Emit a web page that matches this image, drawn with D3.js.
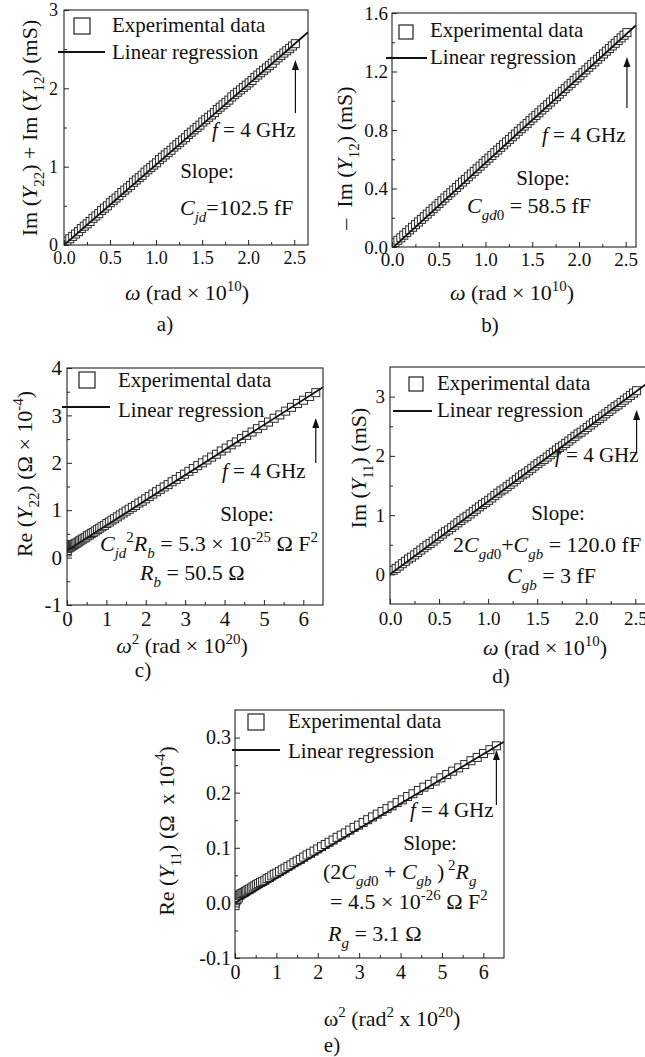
<!DOCTYPE html>
<html>
<head>
<meta charset="utf-8">
<script src="https://cdn.jsdelivr.net/npm/d3@7"></script>
<style>
  body { margin: 0; background: #fff; }
  svg text { font-family: "Liberation Serif", "Times New Roman", serif; fill: #111; white-space: pre; }
</style>
</head>
<body>
<div id="chart"></div>
<script>
// measured frequencies (GHz), 50 MHz steps up to 4 GHz
const freqGHz = [
  0.05, 0.10, 0.15, 0.20, 0.25, 0.30, 0.35, 0.40, 0.45, 0.50,
  0.55, 0.60, 0.65, 0.70, 0.75, 0.80, 0.85, 0.90, 0.95, 1.00,
  1.05, 1.10, 1.15, 1.20, 1.25, 1.30, 1.35, 1.40, 1.45, 1.50,
  1.55, 1.60, 1.65, 1.70, 1.75, 1.80, 1.85, 1.90, 1.95, 2.00,
  2.05, 2.10, 2.15, 2.20, 2.25, 2.30, 2.35, 2.40, 2.45, 2.50,
  2.55, 2.60, 2.65, 2.70, 2.75, 2.80, 2.85, 2.90, 2.95, 3.00,
  3.05, 3.10, 3.15, 3.20, 3.25, 3.30, 3.35, 3.40, 3.45, 3.50,
  3.55, 3.60, 3.65, 3.70, 3.75, 3.80, 3.85, 3.90, 3.95, 4.00
];
// omega in units of 1e10 rad/s, omega^2 in 1e20
const omega = freqGHz.map(f => 2 * Math.PI * f / 10);
const omegaSq = omega.map(w => w * w);

// a) Im(Y22) + Im(Y12), mS
const imY22Y12 = [
  0.05, 0.08, 0.11, 0.14, 0.17, 0.21, 0.24, 0.27, 0.30, 0.34,
  0.37, 0.40, 0.44, 0.47, 0.50, 0.54, 0.57, 0.60, 0.63, 0.67,
  0.70, 0.73, 0.76, 0.80, 0.83, 0.86, 0.89, 0.93, 0.96, 0.99,
  1.02, 1.05, 1.09, 1.12, 1.15, 1.18, 1.21, 1.25, 1.28, 1.31,
  1.34, 1.37, 1.41, 1.44, 1.47, 1.50, 1.53, 1.57, 1.60, 1.63,
  1.66, 1.69, 1.73, 1.76, 1.79, 1.82, 1.85, 1.89, 1.92, 1.95,
  1.98, 2.01, 2.04, 2.07, 2.10, 2.14, 2.17, 2.20, 2.23, 2.26,
  2.29, 2.32, 2.36, 2.39, 2.42, 2.45, 2.48, 2.51, 2.54, 2.57
];
// b) -Im(Y12), mS
const negImY12 = [
  0.030, 0.046, 0.063, 0.081, 0.099, 0.117, 0.135, 0.153, 0.171, 0.189,
  0.207, 0.225, 0.244, 0.262, 0.280, 0.298, 0.316, 0.335, 0.353, 0.371,
  0.389, 0.407, 0.426, 0.444, 0.462, 0.480, 0.499, 0.517, 0.535, 0.553,
  0.572, 0.590, 0.608, 0.626, 0.645, 0.663, 0.681, 0.699, 0.718, 0.736,
  0.754, 0.772, 0.791, 0.809, 0.827, 0.845, 0.864, 0.882, 0.900, 0.918,
  0.937, 0.955, 0.973, 0.991, 1.010, 1.028, 1.046, 1.064, 1.083, 1.101,
  1.119, 1.138, 1.156, 1.174, 1.192, 1.211, 1.229, 1.247, 1.266, 1.284,
  1.302, 1.320, 1.339, 1.357, 1.375, 1.393, 1.412, 1.430, 1.448, 1.466
];
// c) Re(Y22), 1e-4 S
const reY22 = [
  0.12, 0.24, 0.15, 0.26, 0.19, 0.28, 0.21, 0.25, 0.22, 0.27,
  0.24, 0.26, 0.27, 0.28, 0.30, 0.31, 0.33, 0.35, 0.37, 0.39,
  0.41, 0.43, 0.46, 0.48, 0.51, 0.53, 0.56, 0.59, 0.62, 0.65,
  0.68, 0.72, 0.75, 0.79, 0.82, 0.86, 0.90, 0.94, 0.98, 1.02,
  1.06, 1.10, 1.15, 1.19, 1.24, 1.29, 1.34, 1.39, 1.44, 1.49,
  1.54, 1.60, 1.65, 1.71, 1.76, 1.82, 1.88, 1.94, 2.00, 2.06,
  2.12, 2.18, 2.25, 2.31, 2.38, 2.44, 2.51, 2.58, 2.65, 2.72,
  2.79, 2.86, 2.94, 3.01, 3.09, 3.17, 3.25, 3.32, 3.40, 3.48
];
// d) Im(Y11), mS
const imY11 = [
  0.07, 0.10, 0.14, 0.18, 0.22, 0.26, 0.29, 0.33, 0.37, 0.41,
  0.45, 0.49, 0.52, 0.56, 0.60, 0.64, 0.68, 0.72, 0.75, 0.79,
  0.83, 0.87, 0.91, 0.95, 0.98, 1.02, 1.06, 1.10, 1.14, 1.18,
  1.21, 1.25, 1.29, 1.33, 1.37, 1.41, 1.44, 1.48, 1.52, 1.56,
  1.60, 1.64, 1.68, 1.71, 1.75, 1.79, 1.83, 1.87, 1.91, 1.94,
  1.98, 2.02, 2.06, 2.10, 2.14, 2.17, 2.21, 2.25, 2.29, 2.33,
  2.37, 2.40, 2.44, 2.48, 2.52, 2.56, 2.60, 2.63, 2.67, 2.71,
  2.75, 2.79, 2.83, 2.86, 2.90, 2.94, 2.98, 3.02, 3.06, 3.10
];
// e) Re(Y11), 1e-4 S
const reY11 = [
  -0.005, 0.008, 0.000, 0.012, 0.004, 0.010, 0.006, 0.013, 0.009, 0.014,
  0.014, 0.016, 0.017, 0.018, 0.019, 0.021, 0.022, 0.024, 0.025, 0.027,
  0.029, 0.031, 0.033, 0.035, 0.037, 0.039, 0.041, 0.044, 0.046, 0.049,
  0.052, 0.054, 0.057, 0.060, 0.063, 0.066, 0.069, 0.073, 0.076, 0.079,
  0.083, 0.087, 0.090, 0.094, 0.098, 0.102, 0.106, 0.110, 0.114, 0.119,
  0.123, 0.127, 0.132, 0.137, 0.141, 0.146, 0.151, 0.156, 0.161, 0.166,
  0.171, 0.176, 0.182, 0.187, 0.193, 0.198, 0.204, 0.210, 0.215, 0.221,
  0.227, 0.233, 0.239, 0.245, 0.251, 0.258, 0.264, 0.271, 0.278, 0.285
];

// linear regressions: [intercept, slope]
const fitA = [0.0, 1.025];
const fitB = [-0.01, 0.585];
const fitC = [0.15, 0.53];
const fitD = [0.0, 1.23];
const fitE = [0.0, 0.045];

// ticks
const omegaMajor = [0, 0.5, 1.0, 1.5, 2.0, 2.5];
const omegaMinor = [0.25, 0.75, 1.25, 1.75, 2.25];
const omegaSqMajor = [0, 1, 2, 3, 4, 5, 6];
const omegaSqMinor = [0.5, 1.5, 2.5, 3.5, 4.5, 5.5];
const yMajorA = [0, 1, 2, 3], yMinorA = [0.5, 1.5, 2.5];
const yMajorB = [0, 0.4, 0.8, 1.2, 1.6], yMinorB = [0.2, 0.6, 1.0, 1.4];
const yMajorC = [-1, 0, 1, 2, 3, 4], yMinorC = [-0.5, 0.5, 1.5, 2.5, 3.5];
const yMajorD = [0, 1, 2, 3], yMinorD = [0.5, 1.5, 2.5];
const yMajorE = [-0.1, 0, 0.1, 0.2, 0.3], yMinorE = [-0.05, 0.05, 0.15, 0.25];

const legendLabels = ["Experimental data", "Linear regression"];

const svg = d3.select("#chart").append("svg")
    .attr("width", 645)
    .attr("height", 1057);

// text with italic / sub / sup runs
const richText = (parent, x, y, parts, size, anchor, rotate) => {
    const t = parent.append("text")
        .attr("font-size", size)
        .attr("text-anchor", anchor || "start")
        .attr("transform", `translate(${x},${y})` + (rotate ? " rotate(-90)" : ""));
    let shift = 0;
    parts.forEach(([s, k]) => {
        const span = t.append("tspan").text(s);
        let target = 0;
        if (k.includes("sub")) target = 0.32 * size;
        if (k.includes("sup")) target = -0.42 * size;
        span.attr("dy", target - shift);
        shift = target;
        if (target !== 0) span.attr("font-size", size * 0.68);
        if (k.includes("i")) span.attr("font-style", "italic");
    });
    return t;
};

const drawPanel = (p) => {
    const x = d3.scaleLinear().domain(p.xDomain).range([p.left, p.right]);
    const y = d3.scaleLinear().domain(p.yDomain).range([p.bottom, p.top]);
    const g = svg.append("g");
    const clipId = "clip-" + p.id;

    g.append("clipPath").attr("id", clipId).append("rect")
        .attr("x", p.left).attr("y", p.top)
        .attr("width", p.right - p.left).attr("height", p.bottom - p.top);

    const pts = p.xs.map((v, i) => [v, p.ys[i]]);
    const ms = 8;
    g.append("g").attr("clip-path", `url(#${clipId})`)
        .selectAll("rect")
        .data(pts)
        .join("rect")
        .attr("x", d => x(d[0]) - ms / 2)
        .attr("y", d => y(d[1]) - ms / 2)
        .attr("width", ms)
        .attr("height", ms)
        .attr("fill", "#fff")
        .attr("stroke", "#2a2a2a")
        .attr("stroke-width", 1);

    const fx = p.xDomain;
    g.append("line").attr("clip-path", `url(#${clipId})`)
        .attr("x1", x(fx[0])).attr("y1", y(p.fit[0] + p.fit[1] * fx[0]))
        .attr("x2", x(fx[1])).attr("y2", y(p.fit[0] + p.fit[1] * fx[1]))
        .attr("stroke", "#111")
        .attr("stroke-width", 1.8);

    // axes, ticks inward
    const styleAxis = sel => {
        sel.select(".domain").remove();
        sel.selectAll("line").attr("stroke", "#222");
        sel.selectAll("text")
            .attr("font-size", p.tickFont)
            .attr("font-family", "'Liberation Serif', serif")
            .attr("fill", "#111");
    };
    g.append("g").attr("transform", `translate(0,${p.bottom})`)
        .call(d3.axisBottom(x).tickValues(p.xMajor).tickSizeInner(-5).tickSizeOuter(0)
            .tickPadding(p.xPad).tickFormat(p.xFmt))
        .call(styleAxis);
    g.append("g").attr("transform", `translate(0,${p.bottom})`)
        .call(d3.axisBottom(x).tickValues(p.xMinor).tickSizeInner(-3).tickSizeOuter(0).tickFormat(""))
        .call(styleAxis);
    g.append("g").attr("transform", `translate(${p.left},0)`)
        .call(d3.axisLeft(y).tickValues(p.yMajor).tickSizeInner(-5).tickSizeOuter(0)
            .tickPadding(p.yPad).tickFormat(p.yFmt))
        .call(styleAxis);
    g.append("g").attr("transform", `translate(${p.left},0)`)
        .call(d3.axisLeft(y).tickValues(p.yMinor).tickSizeInner(-3).tickSizeOuter(0).tickFormat(""))
        .call(styleAxis);

    g.append("rect")
        .attr("x", p.left).attr("y", p.top)
        .attr("width", p.right - p.left).attr("height", p.bottom - p.top)
        .attr("fill", "none")
        .attr("stroke", "#222")
        .attr("stroke-width", 1.1);

    // legend
    const L = p.legend;
    g.append("rect")
        .attr("x", L.sx - L.ss / 2).attr("y", L.sy - L.ss / 2)
        .attr("width", L.ss).attr("height", L.ss)
        .attr("fill", "#fff").attr("stroke", "#222").attr("stroke-width", 1.2);
    g.append("line")
        .attr("x1", L.lx1).attr("x2", L.lx2).attr("y1", L.ly).attr("y2", L.ly)
        .attr("stroke", "#111").attr("stroke-width", 1.8);
    richText(g, L.tx, L.ty1, [[legendLabels[0], ""]], 21);
    richText(g, L.tx, L.ty2, [[legendLabels[1], ""]], 21);

    // arrow to the 4 GHz point
    const ax = x(p.xs[p.xs.length - 1]);
    g.append("line")
        .attr("x1", ax).attr("x2", ax).attr("y1", p.arrow[0]).attr("y2", p.arrow[1] + 8)
        .attr("stroke", "#111").attr("stroke-width", 1.2);
    g.append("path")
        .attr("d", `M${ax},${p.arrow[1]} L${ax - 3.5},${p.arrow[1] + 10} L${ax + 3.5},${p.arrow[1] + 10} Z`)
        .attr("fill", "#111");

    p.notes.forEach(n => richText(g, n.x, n.y, n.parts, n.size || 22, n.anchor));

    richText(g, p.xTitle.x, p.xTitle.y, p.xTitle.parts, 22, "middle");
    richText(g, p.yTitle.x, p.yTitle.y, p.yTitle.parts, 22, "middle", true);
    richText(g, p.tag.x, p.tag.y, [[p.tag.text, ""]], 21, "middle");
};

const fmt1 = v => v.toFixed(1);
const fmtInt = v => String(v);
const fGHz = [["f", "i"], [" = 4 GHz", ""]];
const omegaTitle = [["ω", "i"], [" (rad × 10", ""], ["10", "sup"], [")", ""]];

drawPanel({
    id: "a", left: 64, right: 308, top: 10, bottom: 245,
    xDomain: [0, 2.65], yDomain: [0, 3],
    xs: omega, ys: imY22Y12, fit: fitA,
    xMajor: omegaMajor, xMinor: omegaMinor, yMajor: yMajorA, yMinor: yMinorA,
    xFmt: fmt1, yFmt: fmtInt, tickFont: 18, xPad: 6, yPad: 6,
    legend: { sx: 82, sy: 26, ss: 16, lx1: 58, lx2: 105, ly: 52, tx: 112, ty1: 32, ty2: 59 },
    arrow: [113, 60],
    notes: [
        { x: 212, y: 137, parts: fGHz, size: 21 },
        { x: 207, y: 178, parts: [["Slope:", ""]], anchor: "middle", size: 21 },
        { x: 180, y: 215, parts: [["C", "i"], ["jd", "isub"], ["=102.5 fF", ""]] }
    ],
    xTitle: { x: 187, y: 300, parts: omegaTitle },
    yTitle: { x: 37, y: 128, parts: [["Im (", ""], ["Y", "i"], ["22", "sub"], [") + Im (", ""], ["Y", "i"], ["12", "sub"], [") (mS)", ""]] },
    tag: { x: 165, y: 331, text: "a)" }
});

drawPanel({
    id: "b", left: 392, right: 636, top: 13, bottom: 247,
    xDomain: [0, 2.61], yDomain: [0, 1.6],
    xs: omega, ys: negImY12, fit: fitB,
    xMajor: omegaMajor, xMinor: omegaMinor, yMajor: yMajorB, yMinor: yMinorB,
    xFmt: fmt1, yFmt: fmt1, tickFont: 19, xPad: 6, yPad: 4,
    legend: { sx: 406, sy: 32, ss: 14, lx1: 386, lx2: 427, ly: 58, tx: 430, ty1: 37, ty2: 64 },
    arrow: [108, 57],
    notes: [
        { x: 542, y: 142, parts: fGHz, size: 21 },
        { x: 543, y: 185, parts: [["Slope:", ""]], anchor: "middle", size: 21 },
        { x: 467, y: 213, parts: [["C", "i"], ["gd", "isub"], ["0", "sub"], [" = 58.5 fF", ""]] }
    ],
    xTitle: { x: 512, y: 300, parts: omegaTitle },
    yTitle: { x: 352, y: 158, parts: [["–  Im (", ""], ["Y", "i"], ["12", "sub"], [") (mS)", ""]] },
    tag: { x: 490, y: 332, text: "b)" }
});

drawPanel({
    id: "c", left: 67, right: 323, top: 368, bottom: 605,
    xDomain: [0, 6.5], yDomain: [-1, 4],
    xs: omegaSq, ys: reY22, fit: fitC,
    xMajor: omegaSqMajor, xMinor: omegaSqMinor, yMajor: yMajorC, yMinor: yMinorC,
    xFmt: fmtInt, yFmt: fmtInt, tickFont: 21, xPad: 6, yPad: 5,
    legend: { sx: 87, sy: 380, ss: 16, lx1: 62, lx2: 110, ly: 407, tx: 118, ty1: 387, ty2: 417 },
    arrow: [463, 418],
    notes: [
        { x: 222, y: 478, parts: fGHz, size: 21 },
        { x: 247, y: 521, parts: [["Slope:", ""]], anchor: "middle", size: 21 },
        { x: 100, y: 551, parts: [["C", "i"], ["jd", "isub"], ["2", "sup"], ["R", "i"], ["b", "isub"], [" = 5.3 × 10", ""], ["-25", "sup"], [" Ω F", ""], ["2", "sup"]] },
        { x: 140, y: 580, parts: [["R", "i"], ["b", "isub"], [" = 50.5 Ω", ""]] }
    ],
    xTitle: { x: 182, y: 653, parts: [["ω", "i"], ["2", "sup"], [" (rad × 10", ""], ["20", "sup"], [")", ""]] },
    yTitle: { x: 32, y: 474, parts: [["Re (", ""], ["Y", "i"], ["22", "sub"], [") (Ω × 10", ""], ["-4", "sup"], [")", ""]] },
    tag: { x: 143, y: 677, text: "c)" }
});

drawPanel({
    id: "d", left: 390, right: 650, top: 367, bottom: 604,
    xDomain: [0, 2.65], yDomain: [-0.5, 3.5],
    xs: omega, ys: imY11, fit: fitD,
    xMajor: omegaMajor, xMinor: omegaMinor, yMajor: yMajorD, yMinor: yMinorD,
    xFmt: fmt1, yFmt: fmtInt, tickFont: 19, xPad: 8, yPad: 5,
    legend: { sx: 416, sy: 384, ss: 14, lx1: 393, lx2: 432, ly: 411, tx: 437, ty1: 390, ty2: 417 },
    arrow: [452, 410],
    notes: [
        { x: 555, y: 462, parts: fGHz, size: 21 },
        { x: 558, y: 520, parts: [["Slope:", ""]], anchor: "middle", size: 21 },
        { x: 453, y: 552, parts: [["2", ""], ["C", "i"], ["gd", "isub"], ["0", "sub"], ["+", ""], ["C", "i"], ["gb", "isub"], [" = 120.0 fF", ""]] },
        { x: 507, y: 583, parts: [["C", "i"], ["gb", "isub"], [" = 3 fF", ""]] }
    ],
    xTitle: { x: 545, y: 655, parts: omegaTitle },
    yTitle: { x: 366, y: 468, parts: [["Im (", ""], ["Y", "i"], ["11", "sub"], [") (mS)", ""]] },
    tag: { x: 501, y: 683, text: "d)" }
});

drawPanel({
    id: "e", left: 235, right: 504, top: 710, bottom: 958,
    xDomain: [0, 6.5], yDomain: [-0.1, 0.35],
    xs: omegaSq, ys: reY11, fit: fitE,
    xMajor: omegaSqMajor, xMinor: omegaSqMinor, yMajor: yMajorE, yMinor: yMinorE,
    xFmt: fmtInt, yFmt: fmt1, tickFont: 20, xPad: 7, yPad: 4,
    legend: { sx: 256, sy: 722, ss: 16, lx1: 232, lx2: 280, ly: 750, tx: 288, ty1: 728, ty2: 758 },
    arrow: [805, 750],
    notes: [
        { x: 410, y: 817, parts: fGHz, size: 21 },
        { x: 430, y: 850, parts: [["Slope:", ""]], anchor: "middle", size: 21 },
        { x: 323, y: 879, parts: [["(2", ""], ["C", "i"], ["gd", "isub"], ["0", "sub"], [" + ", ""], ["C", "i"], ["gb", "isub"], [" )", ""], [" 2", "sup"], ["R", "i"], ["g", "isub"]] },
        { x: 330, y: 909, parts: [["= 4.5 × 10", ""], ["-26", "sup"], [" Ω F", ""], ["2", "sup"]] },
        { x: 328, y: 941, parts: [["R", "i"], ["g", "isub"], [" = 3.1 Ω", ""]] }
    ],
    xTitle: { x: 392, y: 1026, parts: [["ω", ""], ["2", "sup"], [" (rad", ""], ["2", "sup"], [" x 10", ""], ["20", "sup"], [")", ""]] },
    yTitle: { x: 174, y: 831, parts: [["Re (", ""], ["Y", "i"], ["11", "sub"], [") (Ω  x 10", ""], ["-4", "sup"], [")", ""]] },
    tag: { x: 332, y: 1052, text: "e)" }
});
</script>
</body>
</html>
